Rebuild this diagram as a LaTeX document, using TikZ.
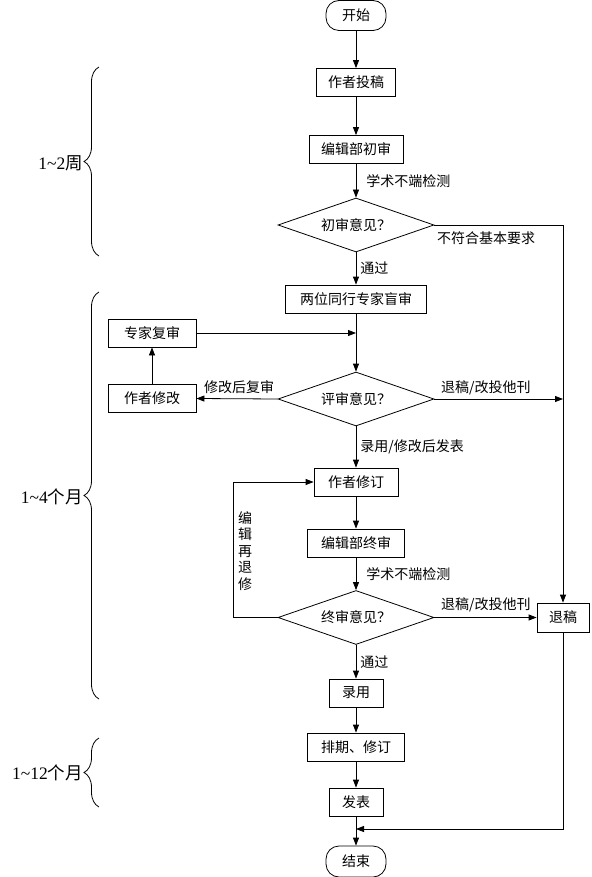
\documentclass[tikz,border=0pt]{standalone}
\usepackage{fontspec}
\setmainfont{Liberation Serif}
\newfontfamily\cjk{Noto Sans CJK SC}
\usetikzlibrary{shapes.geometric}
\usetikzlibrary{arrows.meta}
\usetikzlibrary{decorations.pathreplacing}

\tikzset{
  flowbox/.style={draw, rectangle, line width=0.8pt, minimum height=28pt, inner sep=0pt,
    font=\cjk\fontsize{14}{16}\selectfont},
  terminal/.style={flowbox, rounded corners=13pt, minimum width=60pt, minimum height=30pt},
  decision/.style={draw, diamond, aspect=2.9, line width=0.8pt, minimum width=156pt,
    minimum height=54pt, inner sep=0pt, font=\cjk\fontsize{14}{16}\selectfont},
  lbl/.style={inner sep=0pt, font=\cjk\fontsize{14}{16.4}\selectfont},
  period/.style={decorate, decoration={brace, amplitude=15pt}, line width=0.8pt},
  plabel/.style={inner sep=0pt, anchor=east, font=\fontsize{17.5}{20}\selectfont},
  flow/.style={line width=0.8pt, -{Triangle[length=8pt,width=6pt]}},
}

\begin{document}
\begin{tikzpicture}[x=1pt, y=-1pt]
\useasboundingbox (0,0) rectangle (591,877);

% main column
\node [terminal] (start) at (356,15.5) {开始};
\node [flowbox, minimum width=79pt] (tougao) at (356,82.5) {作者投稿};
\node [flowbox, minimum width=94pt] (chushen) at (356,149.5) {编辑部初审};
\node [decision] (chuyi) at (356,225) {初审意见？};
\node [flowbox, minimum width=141pt] (mangshen) at (356,299) {两位同行专家盲审};
\node [decision] (pingyi) at (356,399) {评审意见？};
\node [flowbox, minimum width=84pt] (xiuding) at (356,482) {作者修订};
\node [flowbox, minimum width=97pt] (zhongshen) at (356,543) {编辑部终审};
\node [decision] (zhongyi) at (356,617.5) {终审意见？};
\node [flowbox, minimum width=54pt] (luyong) at (356,693) {录用};
\node [flowbox, minimum width=97pt] (paiqi) at (356,747) {排期、修订};
\node [flowbox, minimum width=54pt] (fabiao) at (356,802) {发表};
\node [terminal, minimum height=31pt] (finish) at (356,861.5) {结束};

% side boxes
\node [flowbox, minimum width=88pt] (zjfs) at (152,333) {专家复审};
\node [flowbox, minimum width=88pt] (zzxg) at (152,398.5) {作者修改};
\node [flowbox, minimum width=52pt, minimum height=29pt] (tuigao) at (563,617.5) {退稿};

\coordinate (join) at (356,333);
\coordinate (rjoin) at (563,399);
\coordinate (back) at (356,829);

% connectors
\draw [flow] (start) -- (tougao);
\draw [flow] (tougao) -- (chushen);
\draw [flow] (chushen) -- node [lbl, right=10pt] (jc1) {学术不端检测} (chuyi);
\draw [flow] (chuyi) -- node [lbl, right=4pt] (tg1) {通过} (mangshen);
\draw [flow] (chuyi.east) -| (tuigao.north);
\node [lbl, anchor=west] (bfh) at (437,238) {不符合基本要求};
\draw [flow] (mangshen) -- (pingyi);
\draw [flow] (zjfs.east) -- (join);
\draw [flow] (pingyi.west) -- (zzxg.east);
\node [lbl, anchor=west] (xghfs) at (204,387) {修改后复审};
\draw [flow] (zzxg.north) -- (zjfs.south);
\draw [flow] (pingyi.east) -- (rjoin);
\node [lbl, anchor=west] (tg2) at (441,388) {退稿/改投他刊};
\draw [flow] (pingyi) -- node [lbl, right=4pt] (lyfb) {录用/修改后发表} (xiuding);
\draw [flow] (xiuding) -- (zhongshen);
\draw [flow] (zhongshen) -- node [lbl, right=10pt] (jc2) {学术不端检测} (zhongyi);
\draw [flow] (zhongyi.west) -- ++(-44,0) |- (xiuding.west);
\node [lbl, align=center] (tuixiu) at (245,551) {编\\辑\\再\\退\\修};
\draw [flow] (zhongyi.east) -- (tuigao.west);
\node [lbl, anchor=west] (tg3) at (441,605) {退稿/改投他刊};
\draw [flow] (zhongyi) -- node [lbl, right=4pt] (tg4) {通过} (luyong);
\draw [flow] (luyong) -- (paiqi);
\draw [flow] (paiqi) -- (fabiao);
\draw [flow] (fabiao) -- (finish);
\draw [flow] (tuigao.south) |- (back);

% periods
\draw [period] (99,256) -- (99,67);
\node [plabel] (p1) at (83,163) {1\textasciitilde 2{\cjk 周}};
\draw [period] (99,699) -- (99,292);
\node [plabel] (p2) at (83,497) {1\textasciitilde 4{\cjk 个月}};
\draw [period] (99,807) -- (99,738);
\node [plabel] (p3) at (83,773) {1\textasciitilde 12{\cjk 个月}};
\end{tikzpicture}
\end{document}
